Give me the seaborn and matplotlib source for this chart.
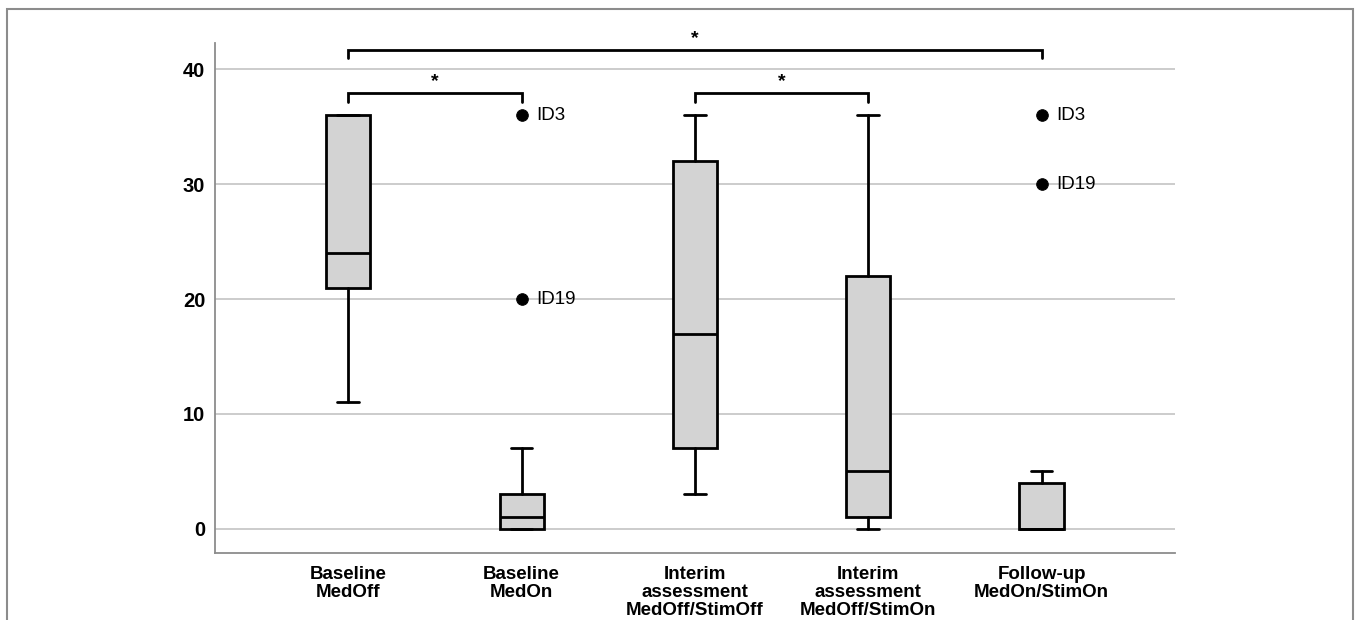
import matplotlib
matplotlib.use("Agg")
import matplotlib.pyplot as plt
import seaborn as sns
import pandas as pd
from matplotlib.patches import Rectangle

# ---------------- data ----------------
categories = ["Baseline\nMedOff", "Baseline\nMedOn",
              "Interim\nassessment\nMedOff/StimOff",
              "Interim\nassessment\nMedOff/StimOn",
              "Follow-up\nMedOn/StimOn"]
whisker_low = [11, 0, 3, 0, 0]
q1 = [21, 0, 7, 1, 0]
median = [24, 1, 17, 5, 0]
q3 = [36, 3, 32, 22, 4]
whisker_high = [36, 7, 36, 36, 5]

outlier_group = [1, 1, 4, 4]
outlier_value = [36, 20, 36, 30]
outlier_label = ["ID3", "ID19", "ID3", "ID19"]

# significance brackets (group index pairs)
sig_left = [0, 0, 2]
sig_right = [4, 1, 3]
sig_level = [41.7, 37.9, 37.9]
sig_text = ["*", "*", "*"]

y_ticks = [0, 10, 20, 30, 40]

# ---------------- style ----------------
sns.set_theme(style="whitegrid")
plt.rcParams["font.family"] = ["Liberation Sans", "DejaVu Sans"]
plt.rcParams["text.color"] = "black"
plt.rcParams["xtick.color"] = "black"
plt.rcParams["ytick.color"] = "black"

fig = plt.figure(figsize=(13.6, 6.2), dpi=100)
ax = fig.add_axes([0.158, 0.108, 0.706, 0.823])

box_fill = "#d3d3d3"
lw = 2.0

stats = []
for i in range(len(categories)):
    stats.append(dict(whislo=whisker_low[i], q1=q1[i], med=median[i],
                      q3=q3[i], whishi=whisker_high[i], fliers=[]))

positions = list(range(len(categories)))
ax.bxp(stats, positions=positions, widths=0.255, patch_artist=True,
       showfliers=False, capwidths=0.125,
       boxprops=dict(facecolor=box_fill, edgecolor="black", linewidth=lw),
       medianprops=dict(color="black", linewidth=lw, solid_capstyle="butt"),
       whiskerprops=dict(color="black", linewidth=lw),
       capprops=dict(color="black", linewidth=lw), zorder=3)

# outliers
out_df = pd.DataFrame({"x": outlier_group, "y": outlier_value, "label": outlier_label})
sns.scatterplot(data=out_df, x="x", y="y", ax=ax, color="black", s=70,
                edgecolor="black", zorder=4, legend=False)
for _, r in out_df.iterrows():
    ax.text(r["x"] + 0.085, r["y"], r["label"], va="center", ha="left",
            fontsize=13.5, color="black", zorder=5)

# brackets
for l, r, lev, t in zip(sig_left, sig_right, sig_level, sig_text):
    ax.plot([l, l, r, r], [lev - 0.75, lev, lev, lev - 0.75],
            color="black", lw=lw, clip_on=False, zorder=5, solid_joinstyle="miter")
    ax.text((l + r) / 2, lev + 0.25, t, ha="center", va="bottom",
            fontsize=14, fontweight="bold", clip_on=False)

# axes styling
ax.set_xlim(-0.77, 4.77)
ax.set_ylim(-2.1, 42.3)
ax.set_yticks(y_ticks)
ax.set_xticks(positions)
ax.set_xticklabels(categories, fontsize=13.5, fontweight="bold", linespacing=1.1)
ax.tick_params(axis="y", labelsize=14.5, length=0, pad=7)
ax.tick_params(axis="x", length=0, pad=9)
for lab in ax.get_yticklabels():
    lab.set_fontweight("bold")
ax.set_xlabel("")
ax.set_ylabel("")
ax.set_facecolor("white")
ax.grid(axis="y", color="#c8c8c8", linewidth=1.3)
ax.grid(axis="x", visible=False)
for s in ["top", "right"]:
    ax.spines[s].set_visible(False)
for s in ["left", "bottom"]:
    ax.spines[s].set_visible(True)
    ax.spines[s].set_color("#8c8c8c")
    ax.spines[s].set_linewidth(1.3)

# outer frame
fig.patches.append(Rectangle((7 / 1360, -0.2), (1353 - 7) / 1360, (1 - 9 / 620) + 0.2,
                             transform=fig.transFigure, fill=False,
                             edgecolor="#8c8c8c", linewidth=1.5, clip_on=False))

fig.savefig("out.png", dpi=100)
